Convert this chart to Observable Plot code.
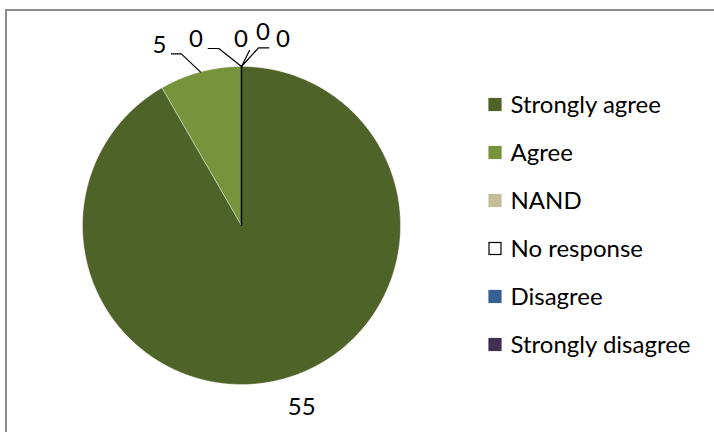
<!DOCTYPE html>
<html>
<head>
<meta charset="utf-8">
<script src="https://cdn.jsdelivr.net/npm/d3@7"></script>
<script src="https://cdn.jsdelivr.net/npm/@observablehq/plot@0.6"></script>
<style>
  html, body { margin: 0; padding: 0; background: #fff; }
  #wrap { position: relative; width: 714px; height: 432px; overflow: hidden; }
  #frame { position: absolute; left: 5px; top: 9px; width: 760px; height: 480px;
           border-left: 2px solid #8e8e8e; border-top: 2px solid #8e8e8e; pointer-events: none; }
  #chart { position: absolute; left: 0; top: 0; }
</style>
</head>
<body>
<div id="wrap"><div id="chart"></div><div id="frame"></div></div>
<script>
// ---- data ----
const categories = ["Strongly agree", "Agree", "NAND", "No response", "Disagree", "Strongly disagree"];
const values = [55, 5, 0, 0, 0, 0];
const colors = ["#4F6228", "#77933C", "#C4BD97", "#FFFFFF", "#376092", "#403152"];
const outlines = ["none", "none", "none", "#000000", "none", "none"];

// ---- layout ----
const W = 714, H = 432;
const cx = 241, cy = 225, R = 159;
const font = "Lato, 'Open Sans', sans-serif";
const fontSize = 24;
// label placement relative to the slice's mid-angle rim point: text offset, leader waypoints
const labelLayout = [
  {text: [19, 28.5], leader: []},
  {text: [-41, -26.5], leader: [[-19, -18], [-29, -18]]},
  {text: [-45.5, -27], leader: [[-22.7, -18], [-33.3, -18]]},
  {text: [-0.5, -27], leader: []},
  {text: [21.5, -34.5], leader: [[8, -16]]},
  {text: [41.5, -27], leader: [[17, -18.7], [27.3, -18.7]]}
];
const legendX = 489, legendY0 = 104.5, legendStep = 48, legendBox = 12;

const data = categories.map((c, i) => ({cat: c, value: values[i], color: colors[i], outline: outlines[i], i}));
const arcs = d3.pie().sort(null).value(d => d.value)(data);

const px = (a, r) => cx + r * Math.sin(a);
const py = (a, r) => cy - r * Math.cos(a);

// slice polygons
const slicePts = [];
arcs.forEach(a => {
  const d = a.data;
  slicePts.push({cat: d.cat, color: d.color, outline: d.outline, value: d.value, x: cx, y: cy});
  const n = Math.max(2, Math.ceil((a.endAngle - a.startAngle) / 0.005));
  for (let k = 0; k <= n; k++) {
    const t = a.startAngle + (a.endAngle - a.startAngle) * k / n;
    slicePts.push({cat: d.cat, color: d.color, outline: d.outline, value: d.value, x: px(t, R), y: py(t, R)});
  }
  slicePts.push({cat: d.cat, color: d.color, outline: d.outline, value: d.value, x: cx, y: cy});
});

// labels and leaders
const labelPts = [], leaderPts = [];
arcs.forEach((a, i) => {
  const mid = (a.startAngle + a.endAngle) / 2;
  const ax = px(mid, R), ay = py(mid, R);
  const L = labelLayout[i];
  labelPts.push({cat: a.data.cat, label: String(a.data.value), x: ax + L.text[0], y: ay + L.text[1]});
  if (L.leader.length) {
    leaderPts.push({cat: a.data.cat, x: ax, y: ay});
    L.leader.forEach(p => leaderPts.push({cat: a.data.cat, x: ax + p[0], y: ay + p[1]}));
  }
});

// legend
const legend = data.map(d => ({
  cat: d.cat, color: d.color, outline: d.outline === "none" ? d.color : d.outline,
  x1: legendX, x2: legendX + legendBox,
  y1: legendY0 + d.i * legendStep - legendBox / 2, y2: legendY0 + d.i * legendStep + legendBox / 2,
  ty: legendY0 + d.i * legendStep
}));

const plot = Plot.plot({
  width: W, height: H,
  margin: 0,
  x: {type: "identity", axis: null},
  y: {type: "identity", axis: null},
  color: {type: "identity"},
  style: {background: "transparent", fontFamily: font},
  marks: [
    Plot.line(slicePts.filter(d => d.value > 0), {x: "x", y: "y", z: "cat", fill: "color", stroke: "#ffffff", strokeOpacity: 0.5, strokeWidth: 0.75}),
    Plot.line(slicePts.filter(d => d.outline !== "none"), {x: "x", y: "y", z: "cat", fill: "color", stroke: "outline", strokeWidth: 1.5}),
    Plot.line(leaderPts, {x: "x", y: "y", z: "cat", stroke: "#000", strokeWidth: 1.2}),
    Plot.text(labelPts, {x: "x", y: "y", text: "label", fontSize, fill: "#000", fontFamily: font}),
    Plot.rect(legend, {x1: "x1", x2: "x2", y1: "y1", y2: "y2", fill: "color", stroke: "outline", strokeWidth: 1.2}),
    Plot.text(legend, {x: d => d.x2 + 9, y: "ty", text: "cat", textAnchor: "start", fontSize, fill: "#000", fontFamily: font})
  ]
});
document.getElementById("chart").appendChild(plot);
</script>
</body>
</html>
